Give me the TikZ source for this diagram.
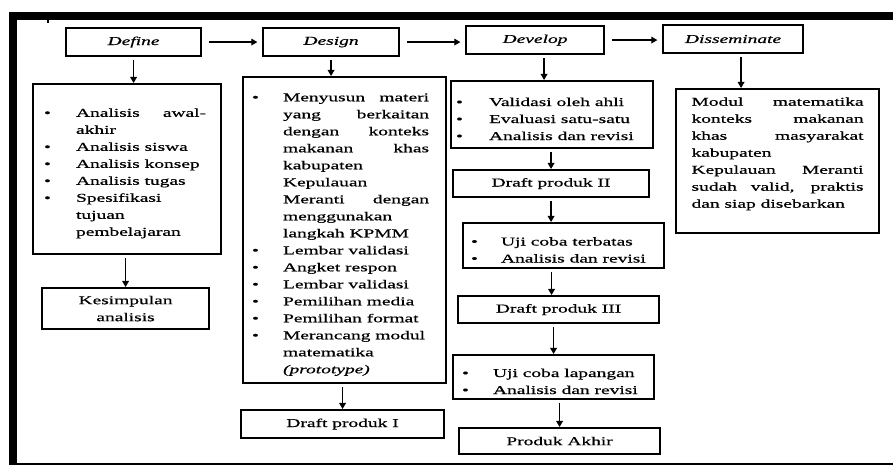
\documentclass[tikz,border=0pt]{standalone}
\usepackage{fontspec}
\setmainfont{Liberation Serif}[FakeStretch=1.62, FakeBold=0.6]
\usetikzlibrary{arrows.meta}

% one pixel of the layout
\newdimen\pxu \pxu=0.75pt
\tolerance=10000 \hbadness=10000 \hyphenpenalty=10000

% bullet list: left margin, label gap, right margin (in pixels)
\newenvironment{dotlist}[3]{%
  \begin{list}{\rlap{\textbullet}}{%
    \setlength\leftmargin{#1\pxu}\setlength\labelsep{#2\pxu}%
    \setlength\rightmargin{#3\pxu}\setlength\labelwidth{0pt}%
    \setlength\itemindent{0pt}\setlength\itemsep{0pt}\setlength\parsep{0pt}%
    \setlength\topsep{0pt}\setlength\partopsep{0pt}}}%
  {\end{list}}

\begin{document}
\begin{tikzpicture}[x=0.75pt, y=-0.75pt,
  every node/.style={font=\fontsize{9}{12.75}\selectfont},
  box/.style={draw, line width=1.6pt, inner sep=0pt, anchor=north west},
  listbox/.style={box, align=justify},
  headbox/.style={box, align=center, font=\fontsize{9}{12.75}\selectfont\itshape},
  stepbox/.style={box, align=center},
  flow/.style={-{Triangle[length=4.5pt,width=5pt]}, line width=0.9pt, shorten <=2pt}]
  \useasboundingbox (0,0) rectangle (893,466);

  % Page frame
  \draw[line width=6pt] (9,16) -- (893,16);
  \draw[line width=6pt] (13,12) -- (13,465);
  \draw[line width=1.2pt] (13,464) -- (893,464);
  \draw[line width=1pt] (48,20) -- (48,23.5);

  % Stage headers
  \node[headbox, minimum width=135\pxu, minimum height=28\pxu] (define) at (65,27) {Define};
  \node[headbox, minimum width=136\pxu, minimum height=28\pxu] (design) at (262,27) {Design};
  \node[headbox, minimum width=138\pxu, minimum height=28\pxu] (develop) at (465,25) {Develop};
  \node[headbox, minimum width=140\pxu, minimum height=28\pxu] (dissem) at (662,24) {Disseminate};

  % Define column
  \node[listbox, text width=188\pxu, minimum height=170\pxu] (deflist) at (32,83) {%
    \begin{dotlist}{43}{32}{15}
    \item Analisis awal-\linebreak akhir
    \item Analisis siswa
    \item Analisis konsep
    \item Analisis tugas
    \item Spesifikasi\newline tujuan\newline pembelajaran
    \end{dotlist}};
  \node[stepbox, minimum width=167\pxu, minimum height=41\pxu] (kesimpulan) at (41,287) {Kesimpulan\\analisis};

  % Design column
  \node[listbox, text width=203\pxu, minimum height=306\pxu] (desglist) at (242,76) {%
    \begin{dotlist}{40}{31}{17}
    \item Menyusun materi\linebreak yang berkaitan\linebreak dengan konteks\linebreak
      makanan khas\linebreak kabupaten\newline Kepulauan\newline
      Meranti dengan\linebreak menggunakan\newline langkah KPMM
    \item Lembar validasi
    \item Angket respon
    \item Lembar validasi
    \item Pemilihan media
    \item Pemilihan format
    \item Merancang modul\newline matematika\newline \textit{(prototype)}
    \end{dotlist}};
  \node[stepbox, minimum width=203\pxu, minimum height=28\pxu] (draftA) at (240,409) {Draft produk I};

  % Develop column
  \node[listbox, text width=202\pxu, minimum height=67\pxu] (devlist) at (450,80) {%
    \begin{dotlist}{38}{33}{12}
    \item Validasi oleh ahli
    \item Evaluasi satu-satu
    \item Analisis dan revisi
    \end{dotlist}};
  \node[stepbox, minimum width=196\pxu, minimum height=27\pxu] (draftB) at (452,169) {Draft produk II};
  \node[listbox, text width=201\pxu, minimum height=45\pxu] (ujiA) at (462,222) {%
    \begin{dotlist}{38}{30}{5}
    \item Uji coba terbatas
    \item Analisis dan revisi
    \end{dotlist}};
  \node[stepbox, minimum width=201\pxu, minimum height=27\pxu] (draftC) at (457,295) {Draft produk III};
  \node[listbox, text width=201\pxu, minimum height=44\pxu] (ujiB) at (452,354) {%
    \begin{dotlist}{40}{31}{5}
    \item Uji coba lapangan
    \item Analisis dan revisi
    \end{dotlist}};
  \node[stepbox, minimum width=201\pxu, minimum height=26\pxu] (produk) at (458,427) {Produk Akhir};

  % Disseminate column
  \node[listbox, text width=172\pxu, inner xsep=15.5\pxu, minimum height=144\pxu] (disstext) at (675,88) {%
    Modul matematika\linebreak konteks makanan\linebreak khas masyarakat\linebreak
    kabupaten\newline Kepulauan Meranti\linebreak sudah valid, praktis\linebreak
    dan siap disebarkan\\\mbox{}};

  % Arrows between stages
  \draw[flow, shorten <=5pt, shorten >=3.5pt] (define.east) -- (design.west);
  \draw[flow, shorten <=5pt, shorten >=3.5pt] (design.east) -- (design.east -| develop.west);
  \draw[flow, shorten <=5pt, shorten >=3.5pt] (develop.east) -- (develop.east -| dissem.west);

  % Arrows down each column
  \draw[flow] (define.south) -- (define.south |- deflist.north);
  \draw[flow] (kesimpulan.north |- deflist.south) -- (kesimpulan.north);
  \draw[flow] (design.south) -- (design.south |- desglist.north);
  \draw[flow] (draftA.north |- desglist.south) -- (draftA.north);
  \draw[flow] ([xshift=9\pxu]develop.south) -- ([xshift=9\pxu]develop.south |- devlist.north);
  \draw[flow] (draftB.north |- devlist.south) -- (draftB.north);
  \draw[flow] (draftB.south) -- (draftB.south |- ujiA.north);
  \draw[flow] ([xshift=-7\pxu]draftC.north |- ujiA.south) -- ([xshift=-7\pxu]draftC.north);
  \draw[flow] (ujiB.north |- draftC.south) -- (ujiB.north);
  \draw[flow] (produk.north |- ujiB.south) -- (produk.north);
  \draw[flow] ([xshift=8\pxu]dissem.south) -- ([xshift=8\pxu]dissem.south |- disstext.north);
\end{tikzpicture}
\end{document}
